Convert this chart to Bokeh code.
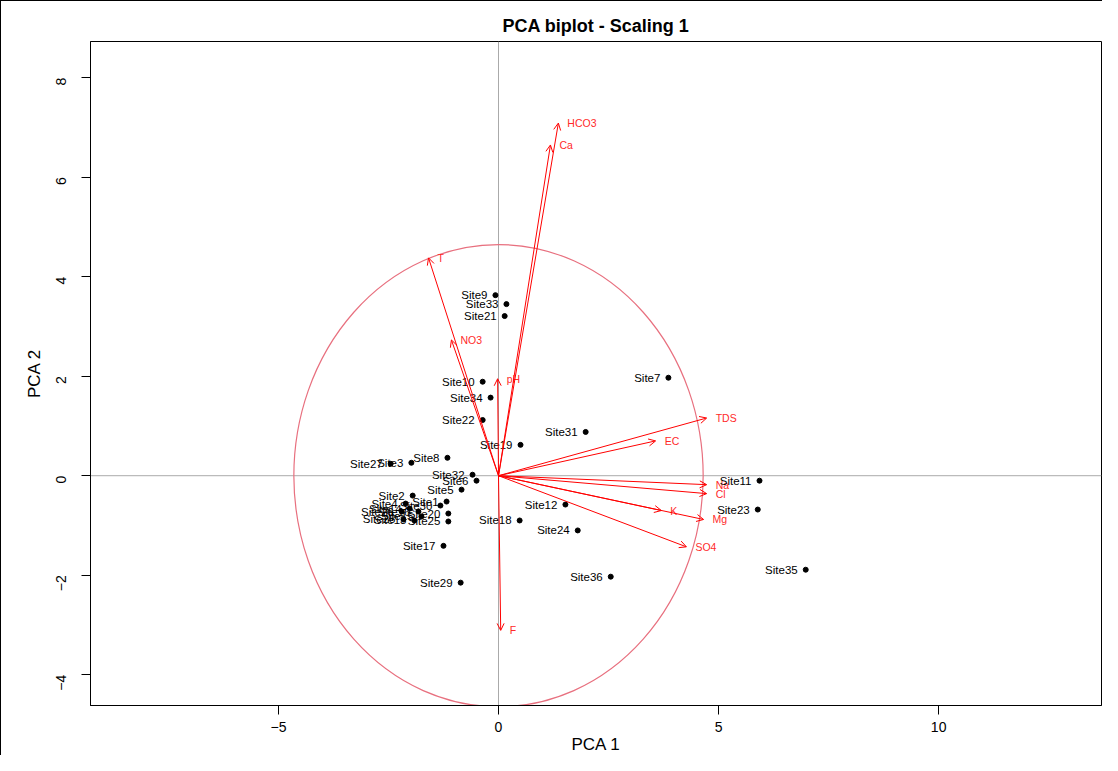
import math
from bokeh.plotting import figure
from bokeh.models import ColumnDataSource, Arrow, OpenHead, Span, FixedTicker, Range1d
from bokeh.core.properties import value
from bokeh.embed import file_html
from bokeh.resources import INLINE

# ---- data: site scores (PCA 1, PCA 2) ----
site_names = ["Site1", "Site2", "Site3", "Site4", "Site5", "Site6", "Site7", "Site8", "Site9",
              "Site10", "Site11", "Site12", "Site13", "Site14", "Site15", "Site16", "Site17",
              "Site18", "Site19", "Site20", "Site21", "Site22", "Site23", "Site24", "Site25",
              "Site26", "Site27", "Site28", "Site29", "Site30", "Site31", "Site32", "Site33",
              "Site34", "Site35", "Site36"]
site_pc1 = [-1.18, -1.95, -1.98, -2.11, -0.84, -0.50, 3.86, -1.16, -0.07,
            -0.36, 5.93, 1.52, -1.91, -2.02, -1.75, -1.82, -1.25,
            0.48, 0.50, -1.14, 0.14, -0.36, 5.89, 1.80, -1.14,
            -2.20, -2.45, -2.16, -0.86, -1.32, 1.98, -0.59, 0.18,
            -0.18, 6.98, 2.55]
site_pc2 = [-0.52, -0.40, 0.26, -0.56, -0.28, -0.10, 1.97, 0.36, 3.63,
            1.89, -0.10, -0.58, -0.90, -0.66, -0.82, -0.72, -1.41,
            -0.90, 0.62, -0.76, 3.21, 1.12, -0.68, -1.10, -0.92,
            -0.72, 0.24, -0.88, -2.15, -0.60, 0.88, 0.02, 3.45,
            1.57, -1.89, -2.03]

# ---- data: variable loadings ----
var_names = ["pH", "T", "EC", "TDS", "Ca", "Mg", "Na", "K", "HCO3", "Cl", "SO4", "NO3", "F"]
var_pc1 = [-0.02, -1.59, 3.57, 4.73, 1.18, 4.66, 4.73, 3.70, 1.36, 4.73, 4.27, -1.07, 0.05]
var_pc2 = [1.95, 4.38, 0.70, 1.16, 6.65, -0.88, -0.18, -0.70, 7.09, -0.36, -1.43, 2.73, -3.11]

circle_radius = 4.65
x_ticks = [-5, 0, 5, 10]
y_ticks = [-4, -2, 0, 2, 4, 6, 8]

FONT = "Liberation Sans"
X_START, X_END = -9.27, 13.70
Y_START, Y_END = -4.62, 8.73

p = figure(width=1102, height=755, output_backend="svg", toolbar_location=None,
           x_range=Range1d(X_START, X_END), y_range=Range1d(Y_START, Y_END),
           min_border_left=89, min_border_right=2, min_border_top=40, min_border_bottom=40,
           background_fill_color="white", border_fill_color="white",
           title="PCA biplot - Scaling 1",
           styles={"border-top": "1px solid black", "border-left": "1px solid black"})

p.title.align = "center"
p.title.text_font = FONT
p.title.text_font_size = "18px"
p.title.text_font_style = "bold"
p.title.text_color = "black"
p.title.standoff = 11

p.outline_line_color = "black"
p.outline_line_width = 1
p.xgrid.visible = False
p.ygrid.visible = False

for ax, ticks in ((p.xaxis, x_ticks), (p.yaxis, y_ticks)):
    ax.ticker = FixedTicker(ticks=ticks)
    ax.major_tick_out = 9
    ax.major_tick_in = 0
    ax.minor_tick_line_color = None
    ax.axis_line_color = "black"
    ax.major_tick_line_color = "black"
    ax.major_label_text_font = FONT
    ax.major_label_text_font_size = "14px"
    ax.major_label_text_color = "black"
    ax.axis_label_text_font = FONT
    ax.axis_label_text_font_size = "17px"
    ax.axis_label_text_font_style = "normal"
    ax.axis_label_text_color = "black"

p.xaxis.axis_label = "PCA 1"
p.xaxis.major_label_standoff = 7
p.xaxis.axis_label_standoff = 0
p.yaxis.axis_label = "PCA 2"
p.yaxis.major_label_standoff = 20
p.yaxis.major_label_orientation = math.pi / 2
p.yaxis.axis_label_standoff = 5

# zero lines
p.add_layout(Span(location=0, dimension="width", line_color="#AAAAAA", line_width=1, level="underlay"))
p.add_layout(Span(location=0, dimension="height", line_color="#AAAAAA", line_width=1, level="underlay"))

# equilibrium circle
p.ellipse(x=[0], y=[0], width=[2 * circle_radius], height=[2 * circle_radius],
          fill_color=None, line_color="#E8707F", line_width=1.2)

# variable arrows
arrow_src = ColumnDataSource(dict(x0=[0] * len(var_names), y0=[0] * len(var_names),
                                  x=var_pc1, y=var_pc2, name=var_names))
p.add_layout(Arrow(end=OpenHead(size=7, line_color="red", line_width=1),
                   source=arrow_src, x_start="x0", y_start="y0", x_end="x", y_end="y",
                   line_color="red", line_width=1))
p.text(x="x", y="y", text="name", source=arrow_src, x_offset=9,
       text_align="left", text_baseline="middle", text_color="#FF2A2A",
       text_font=value(FONT), text_font_size="10.5px")

# sites
site_src = ColumnDataSource(dict(x=site_pc1, y=site_pc2, name=site_names))
p.scatter(x="x", y="y", source=site_src, size=5, color="black")
p.text(x="x", y="y", text="name", source=site_src, x_offset=-8,
       text_align="right", text_baseline="middle", text_color="black",
       text_font=value(FONT), text_font_size="11.5px")

open("out.html", "w").write(file_html(p, INLINE))
